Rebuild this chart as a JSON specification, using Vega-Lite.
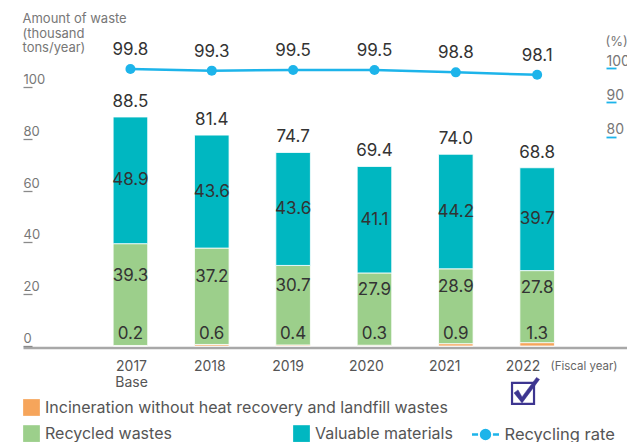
{
  "$schema": "https://vega.github.io/schema/vega-lite/v6.json",
  "width": 604,
  "height": 300,
  "autosize": "none",
  "padding": {"left": 23, "top": 46, "right": 0, "bottom": 96},
  "config": {"view": {"stroke": null}, "font": "Inter"},
  "datasets": {
    "waste": [
      {"year": "2017", "cat": "Incineration without heat recovery and landfill wastes", "value": 0.2},
      {"year": "2017", "cat": "Recycled wastes", "value": 39.3},
      {"year": "2017", "cat": "Valuable materials", "value": 48.9},
      {"year": "2018", "cat": "Incineration without heat recovery and landfill wastes", "value": 0.6},
      {"year": "2018", "cat": "Recycled wastes", "value": 37.2},
      {"year": "2018", "cat": "Valuable materials", "value": 43.6},
      {"year": "2019", "cat": "Incineration without heat recovery and landfill wastes", "value": 0.4},
      {"year": "2019", "cat": "Recycled wastes", "value": 30.7},
      {"year": "2019", "cat": "Valuable materials", "value": 43.6},
      {"year": "2020", "cat": "Incineration without heat recovery and landfill wastes", "value": 0.3},
      {"year": "2020", "cat": "Recycled wastes", "value": 27.9},
      {"year": "2020", "cat": "Valuable materials", "value": 41.1},
      {"year": "2021", "cat": "Incineration without heat recovery and landfill wastes", "value": 0.9},
      {"year": "2021", "cat": "Recycled wastes", "value": 28.9},
      {"year": "2021", "cat": "Valuable materials", "value": 44.2},
      {"year": "2022", "cat": "Incineration without heat recovery and landfill wastes", "value": 1.3},
      {"year": "2022", "cat": "Recycled wastes", "value": 27.8},
      {"year": "2022", "cat": "Valuable materials", "value": 39.7}
    ],
    "totals": [
      {"year": "2017", "total": 88.5},
      {"year": "2018", "total": 81.4},
      {"year": "2019", "total": 74.7},
      {"year": "2020", "total": 69.4},
      {"year": "2021", "total": 74.0},
      {"year": "2022", "total": 68.8}
    ],
    "rate": [
      {"year": "2017", "rate": 99.8},
      {"year": "2018", "rate": 99.3},
      {"year": "2019", "rate": 99.5},
      {"year": "2020", "rate": 99.5},
      {"year": "2021", "rate": 98.8},
      {"year": "2022", "rate": 98.1}
    ],
    "badge": [{"year": "2022"}]
  },
  "layer": [
    {
      "data": {"name": "waste"},
      "transform": [
        {"stack": "value", "groupby": ["year"], "sort": [{"field": "cat", "order": "ascending"}], "as": ["s0", "s1"]},
        {"filter": "datum.cat == 'Incineration without heat recovery and landfill wastes'"}
      ],
      "mark": {"type": "bar", "stroke": "white", "strokeWidth": 0.8},
      "encoding": {
        "x": {
          "field": "year", "type": "nominal",
          "scale": {"type": "band", "domain": ["2017", "2018", "2019", "2020", "2021", "2022"], "paddingInner": 0.575, "paddingOuter": 1.0437, "align": 0.554},
          "axis": {
            "orient": "bottom",
            "title": "(Fiscal year)",
            "titleX": 527,
            "titleY": 18.5,
            "titleAlign": "left",
            "titleBaseline": "middle",
            "titleFontSize": 11.5,
            "titleFontWeight": "normal",
            "titleColor": "#666666",
            "labels": false,
            "ticks": false,
            "grid": false,
            "domainColor": "#a8a8a8",
            "domainWidth": 2.5,
            "offset": 1.5
          }
        },
        "y": {
          "field": "s0",
          "type": "quantitative",
          "scale": {"domain": [0, 115.8], "nice": false, "zero": false},
          "axis": {
            "values": [0, 20, 40, 60, 80, 100],
            "orient": "left",
            "offset": -9,
            "domain": false,
            "grid": false,
            "tickSize": 9,
            "tickColor": "#8a8a8a",
            "tickWidth": 1.3,
            "labelAlign": "left",
            "labelPadding": 0,
            "labelBaseline": "alphabetic",
            "labelOffset": -3.5,
            "labelFontSize": 13,
            "labelColor": "#777777",
            "title": ["Amount of waste", "(thousand", "tons/year)"],
            "titleAngle": 0,
            "titleAlign": "left",
            "titleBaseline": "top",
            "titleX": -10,
            "titleY": -33.5,
            "titleFontSize": 13,
            "titleFontWeight": "normal",
            "titleColor": "#777777",
            "titleLineHeight": 14.5
          }
        },
        "y2": {"field": "s1"},
        "color": {
          "field": "cat",
          "type": "nominal",
          "scale": {"domain": ["Incineration without heat recovery and landfill wastes"], "range": ["#f6a55b"]},
          "legend": {
            "orient": "none",
            "legendX": 0,
            "legendY": 353,
            "title": null,
            "padding": 0,
            "symbolType": "square",
            "symbolSize": 280,
            "symbolStrokeWidth": 0,
            "labelFontSize": 16,
            "labelColor": "#555555",
            "labelOffset": 5,
            "labelLimit": 600
          }
        }
      }
    },
    {
      "data": {"name": "waste"},
      "transform": [
        {"stack": "value", "groupby": ["year"], "sort": [{"field": "cat", "order": "ascending"}], "as": ["s0", "s1"]},
        {"filter": "datum.cat != 'Incineration without heat recovery and landfill wastes'"}
      ],
      "mark": {"type": "bar", "stroke": "white", "strokeWidth": 0.8},
      "encoding": {
        "x": {"field": "year", "type": "nominal", "scale": {"type": "band", "domain": ["2017", "2018", "2019", "2020", "2021", "2022"], "paddingInner": 0.575, "paddingOuter": 1.0437, "align": 0.554}, "axis": null},
        "y": {"field": "s0", "type": "quantitative", "scale": {"domain": [0, 115.8], "nice": false, "zero": false}, "axis": null},
        "y2": {"field": "s1"},
        "fill": {
          "field": "cat",
          "type": "nominal",
          "scale": {"domain": ["Recycled wastes", "Valuable materials"], "range": ["#9ccf8b", "#00b7c1"]},
          "legend": {
            "orient": "none",
            "direction": "horizontal",
            "legendX": 0,
            "legendY": 379,
            "title": null,
            "padding": 0,
            "columnPadding": 121,
            "symbolType": "square",
            "symbolSize": 280,
            "symbolStrokeWidth": 0,
            "labelFontSize": 16,
            "labelColor": "#555555",
            "labelOffset": 5,
            "labelLimit": 600
          }
        }
      }
    },
    {
      "data": {"name": "waste"},
      "transform": [
        {"stack": "value", "groupby": ["year"], "sort": [{"field": "cat", "order": "ascending"}], "as": ["s0", "s1"]},
        {"filter": "datum.cat == 'Recycled wastes'"},
        {"fold": ["s0", "s1"], "as": ["k", "v"]},
        {"aggregate": [{"op": "mean", "field": "v", "as": "mid"}], "groupby": ["year", "value"]}
      ],
      "mark": {"type": "text", "fontSize": 17, "color": "#333333", "dy": -19, "baseline": "middle"},
      "encoding": {
        "x": {"field": "year", "type": "nominal", "scale": {"type": "band", "domain": ["2017", "2018", "2019", "2020", "2021", "2022"], "paddingInner": 0.575, "paddingOuter": 1.0437, "align": 0.554}, "axis": null},
        "y": {"field": "mid", "type": "quantitative", "scale": {"domain": [0, 115.8], "nice": false, "zero": false}, "axis": null},
        "text": {"field": "value", "type": "quantitative", "format": ".1f"}
      }
    },
    {
      "data": {"name": "waste"},
      "transform": [
        {"stack": "value", "groupby": ["year"], "sort": [{"field": "cat", "order": "ascending"}], "as": ["s0", "s1"]},
        {"filter": "datum.cat == 'Valuable materials'"},
        {"fold": ["s0", "s1"], "as": ["k", "v"]},
        {"aggregate": [{"op": "mean", "field": "v", "as": "mid"}], "groupby": ["year", "value"]}
      ],
      "mark": {"type": "text", "fontSize": 17, "color": "#333333", "baseline": "middle"},
      "encoding": {
        "x": {"field": "year", "type": "nominal", "scale": {"type": "band", "domain": ["2017", "2018", "2019", "2020", "2021", "2022"], "paddingInner": 0.575, "paddingOuter": 1.0437, "align": 0.554}, "axis": null},
        "y": {"field": "mid", "type": "quantitative", "scale": {"domain": [0, 115.8], "nice": false, "zero": false}, "axis": null},
        "text": {"field": "value", "type": "quantitative", "format": ".1f"}
      }
    },
    {
      "data": {"name": "waste"},
      "transform": [
        {"stack": "value", "groupby": ["year"], "sort": [{"field": "cat", "order": "ascending"}], "as": ["s0", "s1"]},
        {"filter": "datum.cat == 'Incineration without heat recovery and landfill wastes'"}
      ],
      "mark": {"type": "text", "fontSize": 17, "color": "#333333", "dy": -12, "baseline": "middle"},
      "encoding": {
        "x": {"field": "year", "type": "nominal", "scale": {"type": "band", "domain": ["2017", "2018", "2019", "2020", "2021", "2022"], "paddingInner": 0.575, "paddingOuter": 1.0437, "align": 0.554}, "axis": null},
        "y": {"field": "s0", "type": "quantitative", "scale": {"domain": [0, 115.8], "nice": false, "zero": false}, "axis": null},
        "text": {"field": "value", "type": "quantitative", "format": ".1f"}
      }
    },
    {
      "data": {"name": "totals"},
      "mark": {"type": "text", "fontSize": 17, "color": "#333333", "dy": -15, "baseline": "middle"},
      "encoding": {
        "x": {"field": "year", "type": "nominal", "scale": {"type": "band", "domain": ["2017", "2018", "2019", "2020", "2021", "2022"], "paddingInner": 0.575, "paddingOuter": 1.0437, "align": 0.554}, "axis": null},
        "y": {"field": "total", "type": "quantitative", "scale": {"domain": [0, 115.8], "nice": false, "zero": false}, "axis": null},
        "text": {"field": "total", "type": "quantitative", "format": ".1f"}
      }
    },
    {
      "data": {"name": "rate"},
      "mark": {"type": "line", "strokeWidth": 2.5},
      "encoding": {
        "x": {"field": "year", "type": "nominal", "scale": {"type": "band", "domain": ["2017", "2018", "2019", "2020", "2021", "2022"], "paddingInner": 0.575, "paddingOuter": 1.0437, "align": 0.554}, "axis": null},
        "y": {
          "field": "rate",
          "type": "quantitative",
          "scale": {"domain": [18.8, 106.5], "nice": false, "zero": false},
          "axis": {
            "orient": "right",
            "values": [80, 90, 100],
            "offset": -21,
            "domain": false,
            "grid": false,
            "tickSize": 10,
            "tickColor": "#1db4ea",
            "tickWidth": 1.8,
            "labelAlign": "left",
            "labelPadding": -10,
            "labelBaseline": "alphabetic",
            "labelOffset": -3,
            "labelFontSize": 14,
            "labelColor": "#777777",
            "title": "(%)",
            "titleAngle": 0,
            "titleAlign": "left",
            "titleBaseline": "middle",
            "titleX": -1,
            "titleY": -5,
            "titleFontSize": 13,
            "titleFontWeight": "normal",
            "titleColor": "#777777"
          }
        },
        "stroke": {
          "datum": "Recycling rate",
          "type": "nominal",
          "scale": {"domain": ["Recycling rate"], "range": ["#1db4ea"]},
          "legend": {
            "orient": "none",
            "legendX": 447.5,
            "legendY": 373.5,
            "title": null,
            "padding": 0,
            "symbolType": "M-1,0H-0.55M0.55,0H1M0.33,0A0.33,0.33 0 1,1 -0.33,0A0.33,0.33 0 1,1 0.33,0Z",
            "symbolSize": 729,
            "symbolStrokeWidth": 2.5,
            "symbolFillColor": "#1db4ea",
            "labelFontSize": 16.5,
            "labelColor": "#555555",
            "labelOffset": 4,
            "labelLimit": 600,
            "encode": {"symbols": {"update": {"fill": {"value": "#1db4ea"}, "stroke": {"value": "#1db4ea"}, "strokeWidth": {"value": 2.5}}}}
          }
        }
      }
    },
    {
      "data": {"name": "rate"},
      "mark": {"type": "circle", "size": 100, "color": "#1db4ea", "opacity": 1},
      "encoding": {
        "x": {"field": "year", "type": "nominal", "scale": {"type": "band", "domain": ["2017", "2018", "2019", "2020", "2021", "2022"], "paddingInner": 0.575, "paddingOuter": 1.0437, "align": 0.554}, "axis": null},
        "y": {"field": "rate", "type": "quantitative", "scale": {"domain": [18.8, 106.5], "nice": false, "zero": false}, "axis": null}
      }
    },
    {
      "data": {"name": "rate"},
      "mark": {"type": "text", "fontSize": 17, "color": "#333333", "dy": -19, "baseline": "middle"},
      "encoding": {
        "x": {"field": "year", "type": "nominal", "scale": {"type": "band", "domain": ["2017", "2018", "2019", "2020", "2021", "2022"], "paddingInner": 0.575, "paddingOuter": 1.0437, "align": 0.554}, "axis": null},
        "y": {"field": "rate", "type": "quantitative", "scale": {"domain": [18.8, 106.5], "nice": false, "zero": false}, "axis": null},
        "text": {"field": "rate", "type": "quantitative", "format": ".1f"}
      }
    },
    {
      "data": {"name": "badge"},
      "mark": {"type": "point", "shape": "M-1.1,-1.05H1.1V1.05H-1.1Z", "size": 400, "filled": false, "stroke": "#3d3590", "strokeWidth": 2.2, "opacity": 1},
      "encoding": {
        "x": {
          "field": "year", "type": "nominal",
          "scale": {"type": "band", "domain": ["2017", "2018", "2019", "2020", "2021", "2022"], "paddingInner": 0, "paddingOuter": 0.857, "align": 0.517},
          "axis": {
            "orient": "bottom",
            "title": null,
            "domain": false,
            "ticks": false,
            "grid": false,
            "labelAngle": 0,
            "labelFontSize": 14,
            "labelColor": "#555555",
            "labelPadding": 13,
            "labelLineHeight": 16,
            "labelExpr": "datum.value == '2017' ? ['2017', 'Base'] : datum.label"
          }
        },
        "y": {"datum": -18.3, "type": "quantitative", "scale": {"domain": [0, 115.8], "nice": false, "zero": false}, "axis": null}
      }
    },
    {
      "data": {"name": "badge"},
      "mark": {"type": "point", "shape": "M-0.5,-0.35L-0.1,0.35L1.35,-1.6L1.65,-1.4L-0.1,0.95L-0.9,-0.05Z", "size": 400, "filled": true, "fill": "#3d3590", "stroke": "#3d3590", "strokeWidth": 0.5, "opacity": 1},
      "encoding": {
        "x": {"field": "year", "type": "nominal", "scale": {"type": "band", "domain": ["2017", "2018", "2019", "2020", "2021", "2022"], "paddingInner": 0, "paddingOuter": 0.857, "align": 0.517}, "axis": null},
        "y": {"datum": -18.3, "type": "quantitative", "scale": {"domain": [0, 115.8], "nice": false, "zero": false}, "axis": null}
      }
    }
  ],
  "resolve": {"scale": {"x": "independent", "y": "independent"}}
}
